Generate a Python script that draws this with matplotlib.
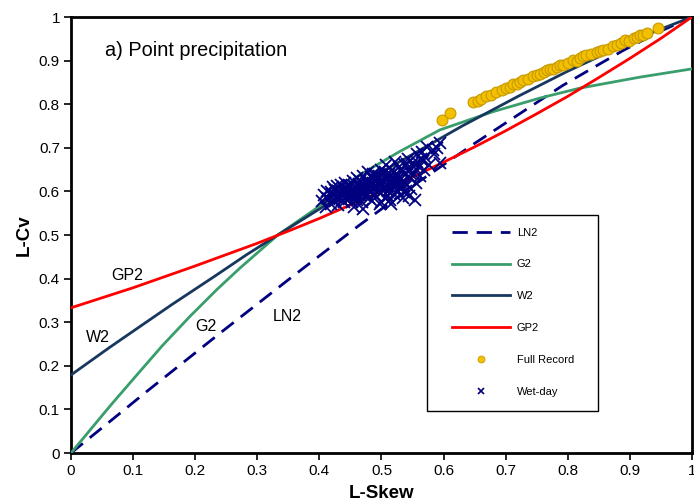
import matplotlib
matplotlib.use("Agg")
import matplotlib.pyplot as plt
from matplotlib.patches import Rectangle
from matplotlib.lines import Line2D

plt.rcParams['font.family'] = ['Liberation Sans', 'DejaVu Sans']

# ---- data ----
ln2_x = [0.0, 0.052, 0.121, 0.241, 0.356, 0.463, 0.560, 0.651, 0.730, 0.792, 0.845, 0.889, 0.947, 1.0]
ln2_y = [0.0, 0.060, 0.140, 0.276, 0.404, 0.521, 0.622, 0.711, 0.785, 0.843, 0.887, 0.923, 0.966, 1.0]

g2_x = [0.0, 0.063, 0.103, 0.147, 0.191, 0.235, 0.272, 0.333, 0.390, 0.464, 0.530, 0.594, 0.680, 0.755, 0.820, 0.916, 1.0]
g2_y = [0.0, 0.108, 0.174, 0.246, 0.3125, 0.375, 0.424, 0.500, 0.556, 0.637, 0.692, 0.741, 0.783, 0.814, 0.837, 0.862, 0.881]

w2_x = [0.0, 0.062, 0.114, 0.162, 0.231, 0.283, 0.333, 0.423, 0.502, 0.630, 0.720, 0.799, 0.893, 0.944, 1.0]
w2_y = [0.179, 0.242, 0.293, 0.340, 0.405, 0.455, 0.500, 0.580, 0.646, 0.750, 0.818, 0.875, 0.9375, 0.969, 1.0]

gp2_x = [0.0, 0.05, 0.1, 0.15, 0.2, 0.25, 0.3, 0.35, 0.4, 0.45, 0.5, 0.55, 0.6, 0.65, 0.7,
         0.75, 0.8, 0.85, 0.9, 0.95, 1.0]
gp2_y = [0.333, 0.356, 0.379, 0.404, 0.429, 0.455, 0.481, 0.509, 0.538, 0.569, 0.600, 0.633,
         0.667, 0.702, 0.739, 0.778, 0.818, 0.861, 0.905, 0.951, 1.0]

full_x = [0.597, 0.610, 0.648, 0.655, 0.661, 0.669, 0.676, 0.685, 0.694, 0.700, 0.707, 0.712,
          0.718, 0.723, 0.728, 0.736, 0.744, 0.750, 0.756, 0.761, 0.766, 0.771, 0.777, 0.782,
          0.788, 0.793, 0.800, 0.809, 0.815, 0.820, 0.825, 0.830, 0.838, 0.847, 0.852, 0.857,
          0.865, 0.873, 0.880, 0.885, 0.892, 0.899, 0.906, 0.911, 0.916, 0.922, 0.927, 0.946]
full_y = [0.764, 0.780, 0.806, 0.808, 0.812, 0.819, 0.821, 0.829, 0.833, 0.838, 0.840, 0.846,
          0.846, 0.851, 0.856, 0.858, 0.865, 0.866, 0.870, 0.873, 0.878, 0.881, 0.880, 0.886,
          0.890, 0.891, 0.895, 0.901, 0.900, 0.905, 0.910, 0.913, 0.915, 0.919, 0.922, 0.924,
          0.927, 0.933, 0.936, 0.940, 0.947, 0.945, 0.951, 0.955, 0.959, 0.958, 0.963, 0.974]

wet_x = [0.405, 0.408, 0.410, 0.412, 0.415, 0.418, 0.420, 0.422, 0.425, 0.427, 0.430, 0.430,
         0.433, 0.435, 0.437, 0.440, 0.440, 0.442, 0.444, 0.446, 0.448, 0.450, 0.450, 0.452,
         0.454, 0.455, 0.457, 0.458, 0.460, 0.460, 0.462, 0.464, 0.465, 0.467, 0.468, 0.470,
         0.470, 0.472, 0.474, 0.475, 0.477, 0.478, 0.480, 0.480, 0.482, 0.484, 0.485, 0.487,
         0.488, 0.490, 0.490, 0.492, 0.494, 0.495, 0.497, 0.498, 0.500, 0.500, 0.502, 0.504,
         0.505, 0.506, 0.508, 0.509, 0.510, 0.512, 0.513, 0.514, 0.516, 0.517, 0.518, 0.520,
         0.521, 0.522, 0.524, 0.525, 0.527, 0.528, 0.530, 0.531, 0.533, 0.535, 0.536, 0.538,
         0.540, 0.541, 0.543, 0.545, 0.546, 0.548, 0.550, 0.552, 0.554, 0.555, 0.557, 0.560,
         0.562, 0.565, 0.568, 0.573, 0.577, 0.583, 0.594, 0.594, 0.470, 0.455, 0.500, 0.515,
         0.535, 0.545, 0.445, 0.465, 0.485, 0.505, 0.525, 0.438, 0.458, 0.478, 0.498, 0.518,
         0.412, 0.418, 0.423, 0.428, 0.434, 0.439, 0.443, 0.447, 0.451, 0.456, 0.461, 0.466,
         0.471, 0.476, 0.481, 0.486, 0.491, 0.496, 0.501, 0.506, 0.511, 0.516, 0.521, 0.526,
         0.531, 0.536, 0.541, 0.547, 0.553, 0.558, 0.563, 0.570, 0.585, 0.590, 0.425, 0.453,
         0.483, 0.511, 0.539, 0.567]
wet_y = [0.578, 0.592, 0.565, 0.600, 0.583, 0.570, 0.595, 0.610, 0.578, 0.588, 0.602, 0.568,
         0.593, 0.615, 0.580, 0.598, 0.575, 0.620, 0.590, 0.605, 0.583, 0.612, 0.595, 0.575,
         0.625, 0.600, 0.588, 0.610, 0.630, 0.580, 0.603, 0.618, 0.592, 0.608, 0.575, 0.635,
         0.600, 0.615, 0.590, 0.625, 0.605, 0.645, 0.585, 0.612, 0.598, 0.630, 0.578, 0.620,
         0.605, 0.640, 0.592, 0.615, 0.600, 0.628, 0.570, 0.612, 0.648, 0.596, 0.622, 0.607,
         0.635, 0.585, 0.660, 0.615, 0.600, 0.640, 0.625, 0.580, 0.608, 0.650, 0.630, 0.615,
         0.595, 0.668, 0.640, 0.620, 0.600, 0.655, 0.632, 0.612, 0.645, 0.625, 0.598, 0.660,
         0.640, 0.615, 0.675, 0.650, 0.630, 0.605, 0.665, 0.640, 0.580, 0.620, 0.685, 0.655,
         0.635, 0.690, 0.648, 0.702, 0.660, 0.695, 0.711, 0.665, 0.560, 0.565, 0.575, 0.570,
         0.585, 0.590, 0.605, 0.612, 0.618, 0.628, 0.635, 0.590, 0.597, 0.603, 0.617, 0.622,
         0.585, 0.598, 0.590, 0.612, 0.585, 0.606, 0.598, 0.615, 0.588, 0.612, 0.594, 0.625,
         0.608, 0.595, 0.622, 0.640, 0.610, 0.636, 0.618, 0.645, 0.628, 0.638, 0.608, 0.628,
         0.650, 0.612, 0.662, 0.640, 0.655, 0.668, 0.675, 0.680, 0.685, 0.700, 0.603, 0.590,
         0.632, 0.590, 0.600, 0.670]

curve_labels = ["GP2", "W2", "G2", "LN2"]
curve_label_pos = [(0.091, 0.406), (0.044, 0.266), (0.217, 0.291), (0.349, 0.314)]

# ---- figure ----
fig = plt.figure(figsize=(6.94, 5.03), dpi=100)
ax = fig.add_axes([0.1023, 0.0994, 0.8947, 0.8668])

c_ln2 = "#000080"
c_g2 = "#3A9E6C"
c_w2 = "#17375E"
c_gp2 = "#FF0000"
c_full = "#F2C000"
c_full_edge = "#C89A00"

l_ln2, = ax.plot(ln2_x, ln2_y, color=c_ln2, lw=2.0, dashes=(5.5, 3.2), label="LN2", zorder=3)
l_g2, = ax.plot(g2_x, g2_y, color=c_g2, lw=2.0, label="G2", zorder=3)
l_w2, = ax.plot(w2_x, w2_y, color=c_w2, lw=2.0, label="W2", zorder=3)
l_gp2, = ax.plot(gp2_x, gp2_y, color=c_gp2, lw=2.0, label="GP2", zorder=3)
ax.plot(wet_x, wet_y, linestyle="none", marker="x", markersize=8, mew=1.3,
        color=c_ln2, zorder=4)
ax.plot(full_x, full_y, linestyle="none", marker="o", markersize=7.8,
        markerfacecolor=c_full, markeredgecolor=c_full_edge, mew=0.8, zorder=5)

for lab, (px, py) in zip(curve_labels, curve_label_pos):
    ax.text(px, py, lab, fontsize=11.5, ha="center", va="center", transform=ax.transAxes)

ax.text(0.0548, 0.9106, "a) Point precipitation", fontsize=14.3, ha="left",
        va="baseline", transform=ax.transAxes)

ax.set_xlim(0, 1)
ax.set_ylim(0, 1)
ax.set_xticks([i / 10 for i in range(11)])
ax.set_yticks([i / 10 for i in range(11)])
ax.set_xticklabels(["0", "0.1", "0.2", "0.3", "0.4", "0.5", "0.6", "0.7", "0.8", "0.9", "1"])
ax.set_yticklabels(["0", "0.1", "0.2", "0.3", "0.4", "0.5", "0.6", "0.7", "0.8", "0.9", "1"])
ax.tick_params(direction="out", length=5, width=1.2, labelsize=11, pad=3)
for s in ax.spines.values():
    s.set_linewidth(2.0)
ax.set_xlabel("L-Skew", fontsize=13.5, fontweight="bold", labelpad=5)
ax.set_ylabel("L-Cv", fontsize=13.5, fontweight="bold", labelpad=4)

# legend box
ax.add_patch(Rectangle((0.573, 0.096), 0.276, 0.450, transform=ax.transAxes,
                       facecolor="white", edgecolor="black", lw=1.0, zorder=6))
h_full = Line2D([], [], linestyle="none", marker="o", markersize=5,
                markerfacecolor=c_full, markeredgecolor=c_full_edge, mew=0.6)
h_wet = Line2D([], [], linestyle="none", marker="x", markersize=5, mew=1.2, color=c_ln2)
leg = ax.legend([l_ln2, l_g2, l_w2, l_gp2, h_full, h_wet],
                ["LN2", "G2", "W2", "GP2", "Full Record", "Wet-day"],
                loc="upper left", bbox_to_anchor=(0.6135, 0.517), frameon=False,
                fontsize=8, handlelength=5.2, handletextpad=0.65, labelspacing=1.97,
                borderpad=0, borderaxespad=0)
leg.set_zorder(7)

fig.savefig("out.png", dpi=100)
